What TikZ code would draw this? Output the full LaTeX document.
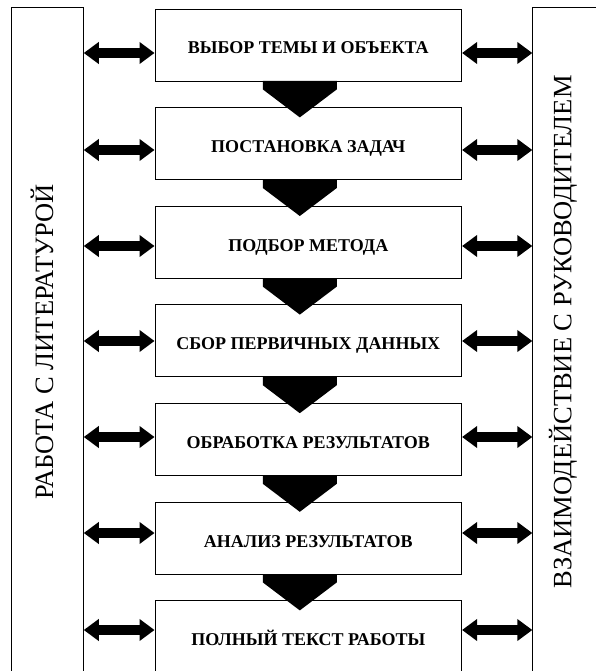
\documentclass[tikz,border=0pt]{standalone}
\usepackage{fontspec}
\setmainfont{Liberation Serif}
\usetikzlibrary{arrows.meta}
\tikzset{
  stepbox/.style={draw, line width=0.8pt, minimum width=306.7pt, minimum height=72pt,
    inner sep=0pt, text height=24pt, text depth=6pt, font=\fontsize{18}{20}\selectfont\bfseries},
  sidebox/.style={draw, line width=0.8pt, minimum width=72.3pt, minimum height=676pt, inner sep=0pt},
  sidetext/.style={rotate=90, inner sep=0pt, font=\fontsize{26.5}{28}\selectfont},
  bothway/.style={line width=10pt, {Triangle[length=15pt,width=21pt]}-{Triangle[length=15pt,width=21pt]}}
}
\begin{document}
\begin{tikzpicture}[x=1pt,y=1pt]
      \useasboundingbox (0,0) rectangle (595,-671);
      \draw
        (308.3,-45.0) node[stepbox] (b1){ВЫБОР ТЕМЫ И ОБЪЕКТА}
        (308.3,-143.6) node[stepbox] (b2){ПОСТАНОВКА ЗАДАЧ}
        (308.3,-242.2) node[stepbox] (b3){ПОДБОР МЕТОДА}
        (308.3,-340.8) node[stepbox] (b4){СБОР ПЕРВИЧНЫХ ДАННЫХ}
        (308.3,-439.4) node[stepbox] (b5){ОБРАБОТКА РЕЗУЛЬТАТОВ}
        (308.3,-538.0) node[stepbox] (b6){АНАЛИЗ РЕЗУЛЬТАТОВ}
        (308.3,-636.6) node[stepbox] (b7){ПОЛНЫЙ ТЕКСТ РАБОТЫ}
        (47.2,-345) node[sidebox] (lit){}
        (568.9,-345) node[sidebox] (ruk){}
        (42,-342) node[sidetext] (littext){РАБОТА С ЛИТЕРАТУРОЙ}
        (563,-332) node[sidetext] (ruktext){ВЗАИМОДЕЙСТВИЕ С РУКОВОДИТЕЛЕМ};
      % steps
      \begin{scope}[fill=black]
        \fill ([xshift=-45.5pt,yshift=0.4pt]b1.south) -- ++(0,-8.4) -- ++(37,-28) -- ++(37,28) -- ++(0,8.4) -- cycle;
        \fill ([xshift=-45.5pt,yshift=0.4pt]b2.south) -- ++(0,-8.4) -- ++(37,-28) -- ++(37,28) -- ++(0,8.4) -- cycle;
        \fill ([xshift=-45.5pt,yshift=0.4pt]b3.south) -- ++(0,-8.4) -- ++(37,-28) -- ++(37,28) -- ++(0,8.4) -- cycle;
        \fill ([xshift=-45.5pt,yshift=0.4pt]b4.south) -- ++(0,-8.4) -- ++(37,-28) -- ++(37,28) -- ++(0,8.4) -- cycle;
        \fill ([xshift=-45.5pt,yshift=0.4pt]b5.south) -- ++(0,-8.4) -- ++(37,-28) -- ++(37,28) -- ++(0,8.4) -- cycle;
        \fill ([xshift=-45.5pt,yshift=0.4pt]b6.south) -- ++(0,-8.4) -- ++(37,-28) -- ++(37,28) -- ++(0,8.4) -- cycle;
      \end{scope}
      % side links
      \begin{scope}[bothway]
        \draw ([yshift=-8pt]b1.west -| lit.east) to ([yshift=-8pt]b1.west);
        \draw ([yshift=-6.4pt]b2.west -| lit.east) to ([yshift=-6.4pt]b2.west);
        \draw ([yshift=-3.8pt]b3.west -| lit.east) to ([yshift=-3.8pt]b3.west);
        \draw ([yshift=-0.2pt]b4.west -| lit.east) to ([yshift=-0.2pt]b4.west);
        \draw ([yshift=2.4pt]b5.west -| lit.east) to ([yshift=2.4pt]b5.west);
        \draw ([yshift=5pt]b6.west -| lit.east) to ([yshift=5pt]b6.west);
        \draw ([yshift=6.6pt]b7.west -| lit.east) to ([yshift=6.6pt]b7.west);
        \draw ([yshift=-8pt]b1.east) to ([yshift=-8pt]b1.east -| ruk.west);
        \draw ([yshift=-6.4pt]b2.east) to ([yshift=-6.4pt]b2.east -| ruk.west);
        \draw ([yshift=-3.8pt]b3.east) to ([yshift=-3.8pt]b3.east -| ruk.west);
        \draw ([yshift=-0.2pt]b4.east) to ([yshift=-0.2pt]b4.east -| ruk.west);
        \draw ([yshift=2.4pt]b5.east) to ([yshift=2.4pt]b5.east -| ruk.west);
        \draw ([yshift=5pt]b6.east) to ([yshift=5pt]b6.east -| ruk.west);
        \draw ([yshift=6.6pt]b7.east) to ([yshift=6.6pt]b7.east -| ruk.west);
      \end{scope}
    \end{tikzpicture}
\end{document}
